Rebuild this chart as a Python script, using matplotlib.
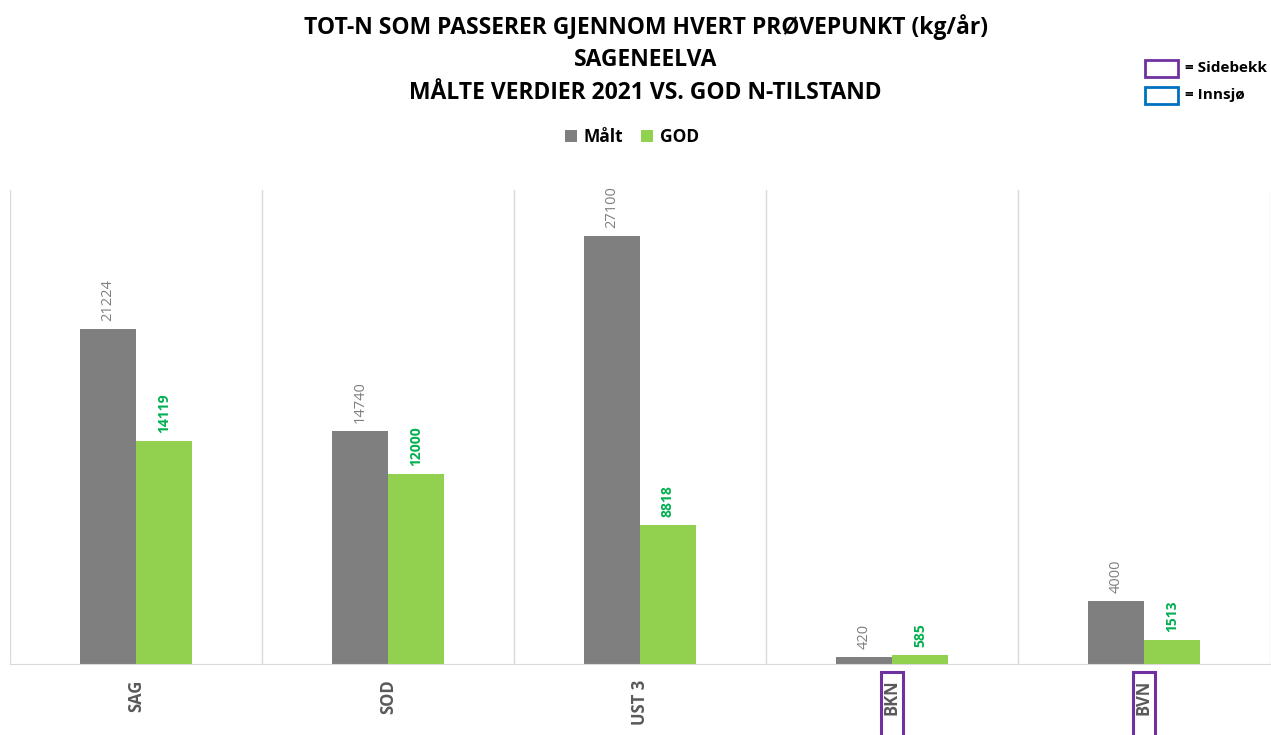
import matplotlib.pyplot as plt
import matplotlib.patches as mpatches
import matplotlib.transforms as mtransforms
import numpy as np

plt.rcParams['font.family'] = ['Open Sans', 'DejaVu Sans']

stations = ['SAG', 'SOD', 'UST 3', 'BKN', 'BVN']
maalt = [21224, 14740, 27100, 420, 4000]
god = [14119, 12000, 8818, 585, 1513]
sidebekk = ['BKN', 'BVN']

GRAY = '#7f7f7f'
GREEN = '#92d050'
GREEN_TXT = '#00b050'
PURPLE = '#7030a0'
BLUE = '#0070c0'

fig = plt.figure(figsize=(12.71, 7.35), dpi=100)
ax = fig.add_axes([10 / 1271, 1 - 664 / 735, 1260 / 1271, 474 / 735])

x = np.arange(len(stations))
w = 0.222
b1 = ax.bar(x - w / 2, maalt, w, color=GRAY, label='Målt')
b2 = ax.bar(x + w / 2, god, w, color=GREEN, label='GOD')

for rect, v in zip(b1, maalt):
    ax.text(rect.get_x() + rect.get_width() / 2, v + 500, str(v), rotation=90,
            ha='center', va='bottom', color=GRAY, fontsize=10.5)
for rect, v in zip(b2, god):
    ax.text(rect.get_x() + rect.get_width() / 2, v + 500, str(v), rotation=90,
            ha='center', va='bottom', color=GREEN_TXT, fontsize=10, fontweight='bold')

ax.set_xlim(-0.5, len(stations) - 0.5)
ax.set_ylim(0, 30000)
ax.set_yticks([])
ax.set_xticks(x)
ax.set_xticklabels(stations, rotation=90, fontsize=12, fontweight='bold', color='#595959')
ax.tick_params(axis='x', length=0, pad=11)

# purple boxes round the side-stream labels, running off the bottom edge
trans = mtransforms.blended_transform_factory(ax.transData, fig.transFigure)
for i, s in enumerate(stations):
    if s in sidebekk:
        box = mpatches.Rectangle((i - 0.042, -0.05), 0.084, 0.05 + 1 - 672 / 735,
                                 transform=trans, facecolor='none', edgecolor=PURPLE,
                                 linewidth=2.2, clip_on=False)
        fig.patches.append(box)

for xv in np.arange(-0.5, len(stations), 1.0):
    ax.axvline(xv, color='#d9d9d9', linewidth=1, zorder=0)
for s in ['top', 'left', 'right']:
    ax.spines[s].set_visible(False)
ax.spines['bottom'].set_color('#d9d9d9')

fig.text(0.508, 1 - 27 / 735, 'TOT-N SOM PASSERER GJENNOM HVERT PRØVEPUNKT (kg/år)',
         ha='center', va='center', fontsize=16.5, fontweight='bold')
fig.text(0.508, 1 - 60 / 735, 'SAGENEELVA', ha='center', va='center',
         fontsize=16.5, fontweight='bold')
fig.text(0.508, 1 - 93 / 735, 'MÅLTE VERDIER 2021 VS. GOD N-TILSTAND',
         ha='center', va='center', fontsize=16.5, fontweight='bold')

fig.legend(handles=[b1, b2], loc='center', bbox_to_anchor=(0.497, 1 - 137 / 735),
           ncol=2, frameon=False, prop={'weight': 'bold', 'size': 12.5},
           handlelength=0.7, handleheight=0.7, handletextpad=0.4, columnspacing=1.0)

# legend for box colours
for y0, col, txt in [(59, PURPLE, '= Sidebekk'), (86, BLUE, '= Innsjø')]:
    fig.patches.append(mpatches.Rectangle((1145 / 1271, 1 - (y0 + 18) / 735),
                                          33 / 1271, 17 / 735, transform=fig.transFigure,
                                          facecolor='none', edgecolor=col, linewidth=2))
    fig.text(1185 / 1271, 1 - (y0 + 9) / 735, txt, ha='left', va='center',
             fontsize=11, fontweight='bold')

fig.savefig('out.png', dpi=100)
